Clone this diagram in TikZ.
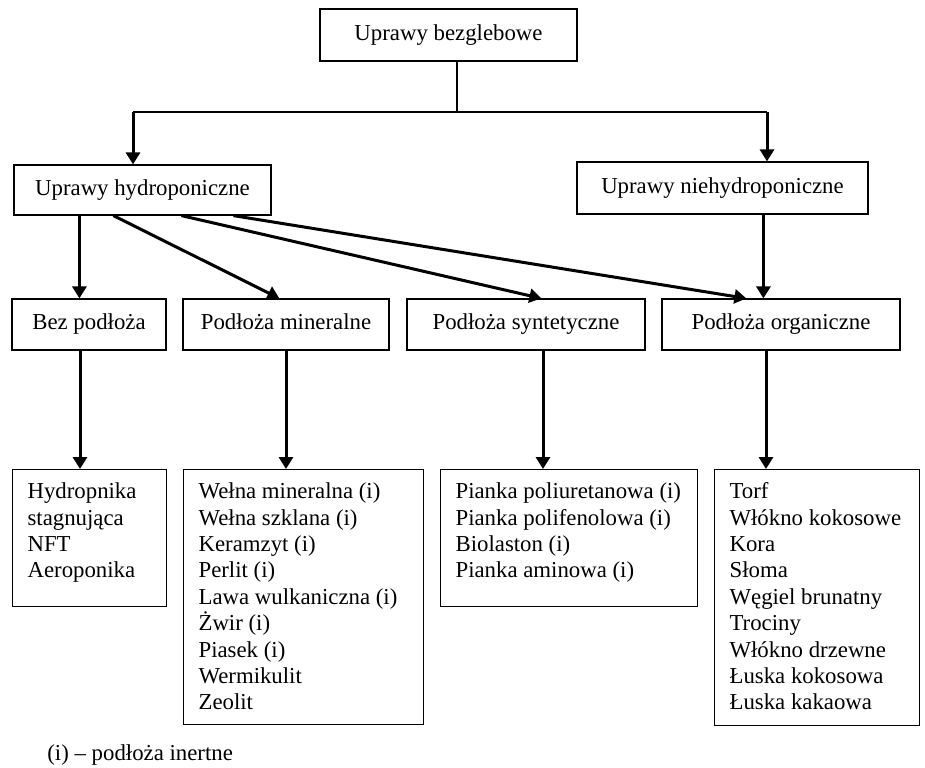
\documentclass[tikz,border=0pt]{standalone}
\usepackage{fontspec}
\setmainfont{Liberation Serif}
\usetikzlibrary{arrows.meta}
\begin{document}
\begin{tikzpicture}[x=0.5pt,y=-0.5pt,
  every node/.style={font=\fontsize{11.4}{13.2}\selectfont},
  box/.style={draw, line width=0.6pt, inner sep=0pt, align=center, text height=8pt, text depth=2.6pt},
  listbox/.style={draw, line width=0.6pt, inner xsep=7.5pt, inner ysep=0pt, anchor=north west},
  conn/.style={line width=0.6pt},
  arr/.style={line width=1.5pt, -{Triangle[length=6pt,width=7pt]}}
]
\useasboundingbox (0,0) rectangle (925,767);

% top level
\node[box, minimum width=128.5pt, minimum height=26pt] (top) at (448.5,35) {Uprawy bezglebowe};
\node[box, minimum width=128.5pt, minimum height=25pt] (hyd) at (142.5,190) {Uprawy hydroponiczne};
\node[box, minimum width=145.5pt, minimum height=26pt] (nhyd) at (722.5,188) {Uprawy niehydroponiczne};

% second level
\node[box, minimum width=77pt, minimum height=25.5pt] (bez) at (89,324.5) {Bez podłoża};
\node[box, minimum width=103pt, minimum height=25.5pt] (min) at (286,324.5) {Podłoża mineralne};
\node[box, minimum width=119pt, minimum height=25.5pt] (syn) at (526,324.5) {Podłoża syntetyczne};
\node[box, minimum width=119pt, minimum height=25.5pt] (org) at (781,324.5) {Podłoża organiczne};

% lists
\node[listbox] (bl) at (12,469) {\parbox[c][68.5pt][t]{62pt}{\raggedright\rule{0pt}{14.5pt}Hydropnika\\stagnująca\\NFT\\Aeroponika}};
\node[listbox] (ml) at (183,469) {\parbox[c][127.5pt][t]{105pt}{\raggedright\rule{0pt}{14.5pt}Wełna mineralna (i)\\Wełna szklana (i)\\Keramzyt (i)\\Perlit (i)\\Lawa wulkaniczna (i)\\Żwir (i)\\Piasek (i)\\Wermikulit\\Zeolit}};
\node[listbox] (sl) at (440,469) {\parbox[c][68.5pt][t]{113.5pt}{\raggedright\rule{0pt}{14.5pt}Pianka poliuretanowa (i)\\Pianka polifenolowa (i)\\Biolaston (i)\\Pianka aminowa (i)}};
\node[listbox] (ol) at (714,469) {\parbox[c][128pt][t]{87.5pt}{\raggedright\rule{0pt}{14.5pt}Torf\\Włókno kokosowe\\Kora\\Słoma\\Węgiel brunatny\\Trociny\\Włókno drzewne\\Łuska kokosowa\\Łuska kakaowa}};

% footnote
\node[anchor=west, inner sep=0pt] (note) at (47,755) {(i) – podłoża inertne};

% top splitter
\coordinate (split) at (457,112);
\coordinate (hl) at (133,112);
\coordinate (hr) at (767,112);
\draw[conn] (top.south -| split) -- (split);
\draw[conn] (hl) -- (hr);
\draw[arr] (hl) -- (hl |- hyd.north);
\draw[arr] (hr) -- (hr |- nhyd.north);

% from hydroponic
\draw[arr] ([xshift=33pt]hyd.south west) -- ([xshift=33pt]hyd.south west |- bez.north);
\draw[arr] ([xshift=50pt]hyd.south west) -- ([xshift=48.5pt]min.north west);
\draw[arr] ([xshift=84pt]hyd.south west) -- ([xshift=67.5pt]syn.north west);
\draw[arr] ([xshift=110pt]hyd.south west) -- ([xshift=42.5pt]org.north west);

% from non-hydroponic
\draw[arr] ([xshift=93.5pt]nhyd.south west) -- ([xshift=93.5pt]nhyd.south west |- org.north);

% down to lists
\draw[arr] ([xshift=-4.5pt]bez.south) -- ([xshift=-4.5pt]bez.south |- bl.north);
\draw[arr] (min.south) -- (min.south |- ml.north);
\draw[arr] ([xshift=8.5pt]syn.south) -- ([xshift=8.5pt]syn.south |- sl.north);
\draw[arr] ([xshift=-7.5pt]org.south) -- ([xshift=-7.5pt]org.south |- ol.north);
\end{tikzpicture}
\end{document}
